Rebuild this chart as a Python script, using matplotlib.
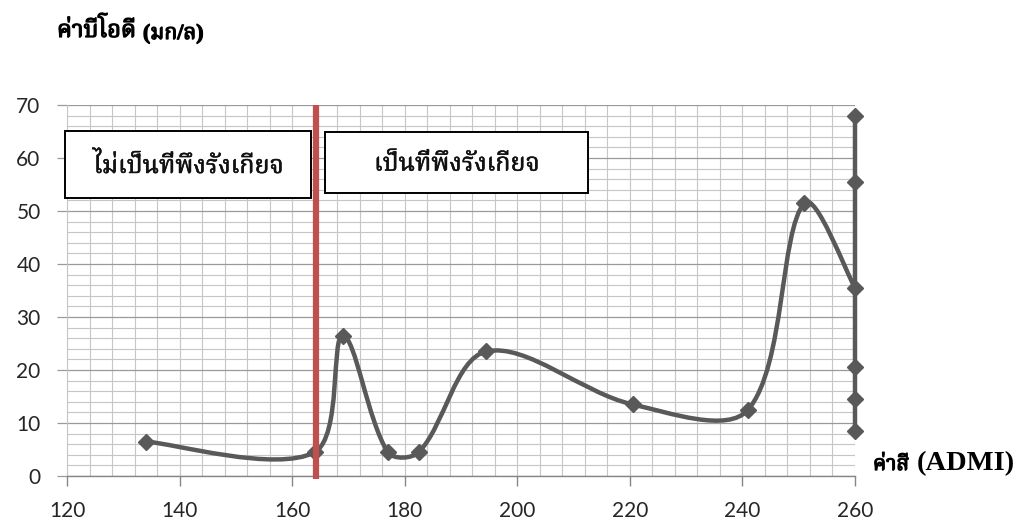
import numpy as np
import matplotlib
matplotlib.use("Agg")
import matplotlib.pyplot as plt
import matplotlib.patheffects as pe
from matplotlib import font_manager
from matplotlib.ft2font import FT2Font
from matplotlib.path import Path
from matplotlib.patches import PathPatch, Rectangle
from matplotlib.ticker import MultipleLocator

# ---- data -------------------------------------------------------------
color_admi = [134, 164, 169, 177, 182.5, 194.5, 220.5, 241, 251, 260]
bod_mg_l = [6.5, 4.5, 26.5, 4.5, 4.5, 23.5, 13.5, 12.5, 51.5, 35.5]
edge_admi = [260, 260, 260, 260, 260]
edge_bod = [68, 55.5, 20.5, 14.5, 8.5]
threshold_admi = 164.2
x_ticks = [120, 140, 160, 180, 200, 220, 240, 260]
y_ticks = [0, 10, 20, 30, 40, 50, 60, 70]
title_main = "ค่าบีโอดี"
title_unit = "(มก/ล)"
xlabel_main = "ค่าสี"
xlabel_unit = "(ADMI)"
zone_left = "ไม่เป็นที่พึงรังเกียจ"
zone_right = "เป็นที่พึงรังเกียจ"


# ---- find a font that covers Thai --------------------------------------
def thai_family():
    preferred = ["Norasi", "Kinnari", "TH Sarabun", "Noto Serif Thai",
                 "Noto Sans Thai Looped", "Garuda", "Loma", "Noto Sans Thai",
                 "Tlwg"]
    found = []
    for f in font_manager.fontManager.ttflist:
        try:
            cmap = FT2Font(f.fname).get_charmap()
        except Exception:
            continue
        if 0x0E04 in cmap and 0x0E35 in cmap:
            found.append(f.name)
    for p in preferred:
        for n in found:
            if n.startswith(p):
                return n
    return found[0] if found else "DejaVu Sans"


THAI = thai_family()
SERIF_FAMILY = ["Liberation Serif", THAI, "DejaVu Sans"]
THAI_FAMILY = [THAI, "Liberation Serif", "DejaVu Sans"]
BOLDEN = [pe.withStroke(linewidth=0.9, foreground="black")]


# ---- smoothed series path ---------------------------------------------
def smooth_path(ax, xs, ys):
    """Cubic Bezier through the points; control arms scaled by the
    relative on-screen length of the neighbouring segments."""
    pts = ax.transData.transform(np.column_stack([xs, ys]).astype(float))
    n = len(pts)
    seg = np.linalg.norm(np.diff(pts, axis=0), axis=1)
    tang = []
    for i in range(n):
        a = pts[max(i - 1, 0)]
        b = pts[min(i + 1, n - 1)]
        tang.append(b - a)
    verts = [pts[0]]
    codes = [Path.MOVETO]
    for i in range(n - 1):
        d_cur = seg[i]
        d_prev = seg[i - 1] if i > 0 else d_cur
        d_next = seg[i + 1] if i + 1 < n - 1 else d_cur
        c1 = pts[i] + tang[i] * d_cur / (d_prev + d_cur) / 3.0
        c2 = pts[i + 1] - tang[i + 1] * d_cur / (d_cur + d_next) / 3.0
        verts += [c1, c2, pts[i + 1]]
        codes += [Path.CURVE4] * 3
    data = ax.transData.inverted().transform(np.array(verts))
    return Path(data, codes)


fig = plt.figure(figsize=(10.18, 5.21), dpi=100)
ax = fig.add_axes([67 / 1018, 45 / 521, 788 / 1018, 371 / 521])

ax.set_xlim(120, 260)
ax.set_ylim(0, 70)
ax.set_xticks(x_ticks)
ax.set_yticks(y_ticks)
ax.xaxis.set_minor_locator(MultipleLocator(4))
ax.yaxis.set_minor_locator(MultipleLocator(2))

ax.grid(which="minor", color="#c6c6c6", linewidth=0.8, zorder=0)
ax.grid(which="major", axis="x", color="#c6c6c6", linewidth=0.8, zorder=0)
ax.grid(which="major", axis="y", color="#9a9a9a", linewidth=0.9, zorder=0)
ax.set_axisbelow(True)

for s in ["top", "right"]:
    ax.spines[s].set_visible(False)
ax.spines["left"].set_color("#c6c6c6")
ax.spines["left"].set_linewidth(0.8)
ax.spines["bottom"].set_color("#868686")
ax.spines["bottom"].set_linewidth(1.0)

ax.tick_params(which="minor", length=0)
ax.tick_params(axis="y", which="major", length=7, width=0.9, color="#9a9a9a",
               pad=12, labelsize=15, labelcolor="#262626")
ax.tick_params(axis="x", which="major", length=7, width=1.0, color="#868686",
               pad=11, labelsize=15, labelcolor="#262626")
for lab in ax.get_xticklabels() + ax.get_yticklabels():
    lab.set_family(["Lato", "DejaVu Sans"])

line_col = "#595959"
curve = PathPatch(smooth_path(ax, color_admi, bod_mg_l), fill=False,
                  edgecolor=line_col, linewidth=3.2, zorder=3,
                  capstyle="round", joinstyle="round", clip_on=False)
ax.add_patch(curve)
ax.plot(color_admi, bod_mg_l, linestyle="none", marker="D", markersize=8.5,
        color=line_col, zorder=4, clip_on=False)

edge_y = sorted(edge_bod + [bod_mg_l[-1]])
ax.plot([edge_admi[0]] * len(edge_y), edge_y, color=line_col, linewidth=3.2,
        zorder=3, clip_on=False)
ax.plot(edge_admi, edge_bod, linestyle="none", marker="D", markersize=8.5,
        color=line_col, zorder=4, clip_on=False)

ax.plot([threshold_admi, threshold_admi], [-0.6, 70], color="#c0504d",
        linewidth=4.5, zorder=5, clip_on=False, solid_capstyle="butt")

# zone boxes
box_text = dict(ha="center", va="center", fontsize=18, family=THAI_FAMILY,
                color="#111111", zorder=7,
                path_effects=[pe.withStroke(linewidth=0.4, foreground="#111111")])
ax.add_patch(Rectangle((119.7, 52.5), 43.7, 12.6, facecolor="white",
                       edgecolor="black", linewidth=1.4, zorder=6, clip_on=False))
ax.text(119.7 + 43.7 / 2, 52.5 + 12.6 / 2 - 0.3, zone_left, **box_text)
ax.add_patch(Rectangle((165.9, 53.4), 46.7, 11.5, facecolor="white",
                       edgecolor="black", linewidth=1.4, zorder=6, clip_on=False))
ax.text(165.9 + 46.7 / 2, 53.4 + 11.5 / 2 - 0.3, zone_right, **box_text)

# axis titles
fig.text(57 / 1018, 1 - 37 / 521, title_main, ha="left", va="baseline",
         fontsize=17, fontweight="bold", family=THAI_FAMILY, color="black",
         path_effects=BOLDEN)
fig.text(143 / 1018, 1 - 39 / 521, title_unit, ha="left", va="baseline",
         fontsize=15.5, fontweight="bold", family=SERIF_FAMILY, color="black",
         path_effects=BOLDEN)
fig.text(873 / 1018, 1 - 470 / 521, xlabel_main, ha="left", va="baseline",
         fontsize=15, fontweight="bold", family=THAI_FAMILY, color="black",
         path_effects=BOLDEN)
fig.text(917 / 1018, 1 - 470 / 521, xlabel_unit, ha="left", va="baseline",
         fontsize=20.5, fontweight="bold", family=SERIF_FAMILY, color="black")

fig.savefig("out.png", dpi=100, facecolor="white")
